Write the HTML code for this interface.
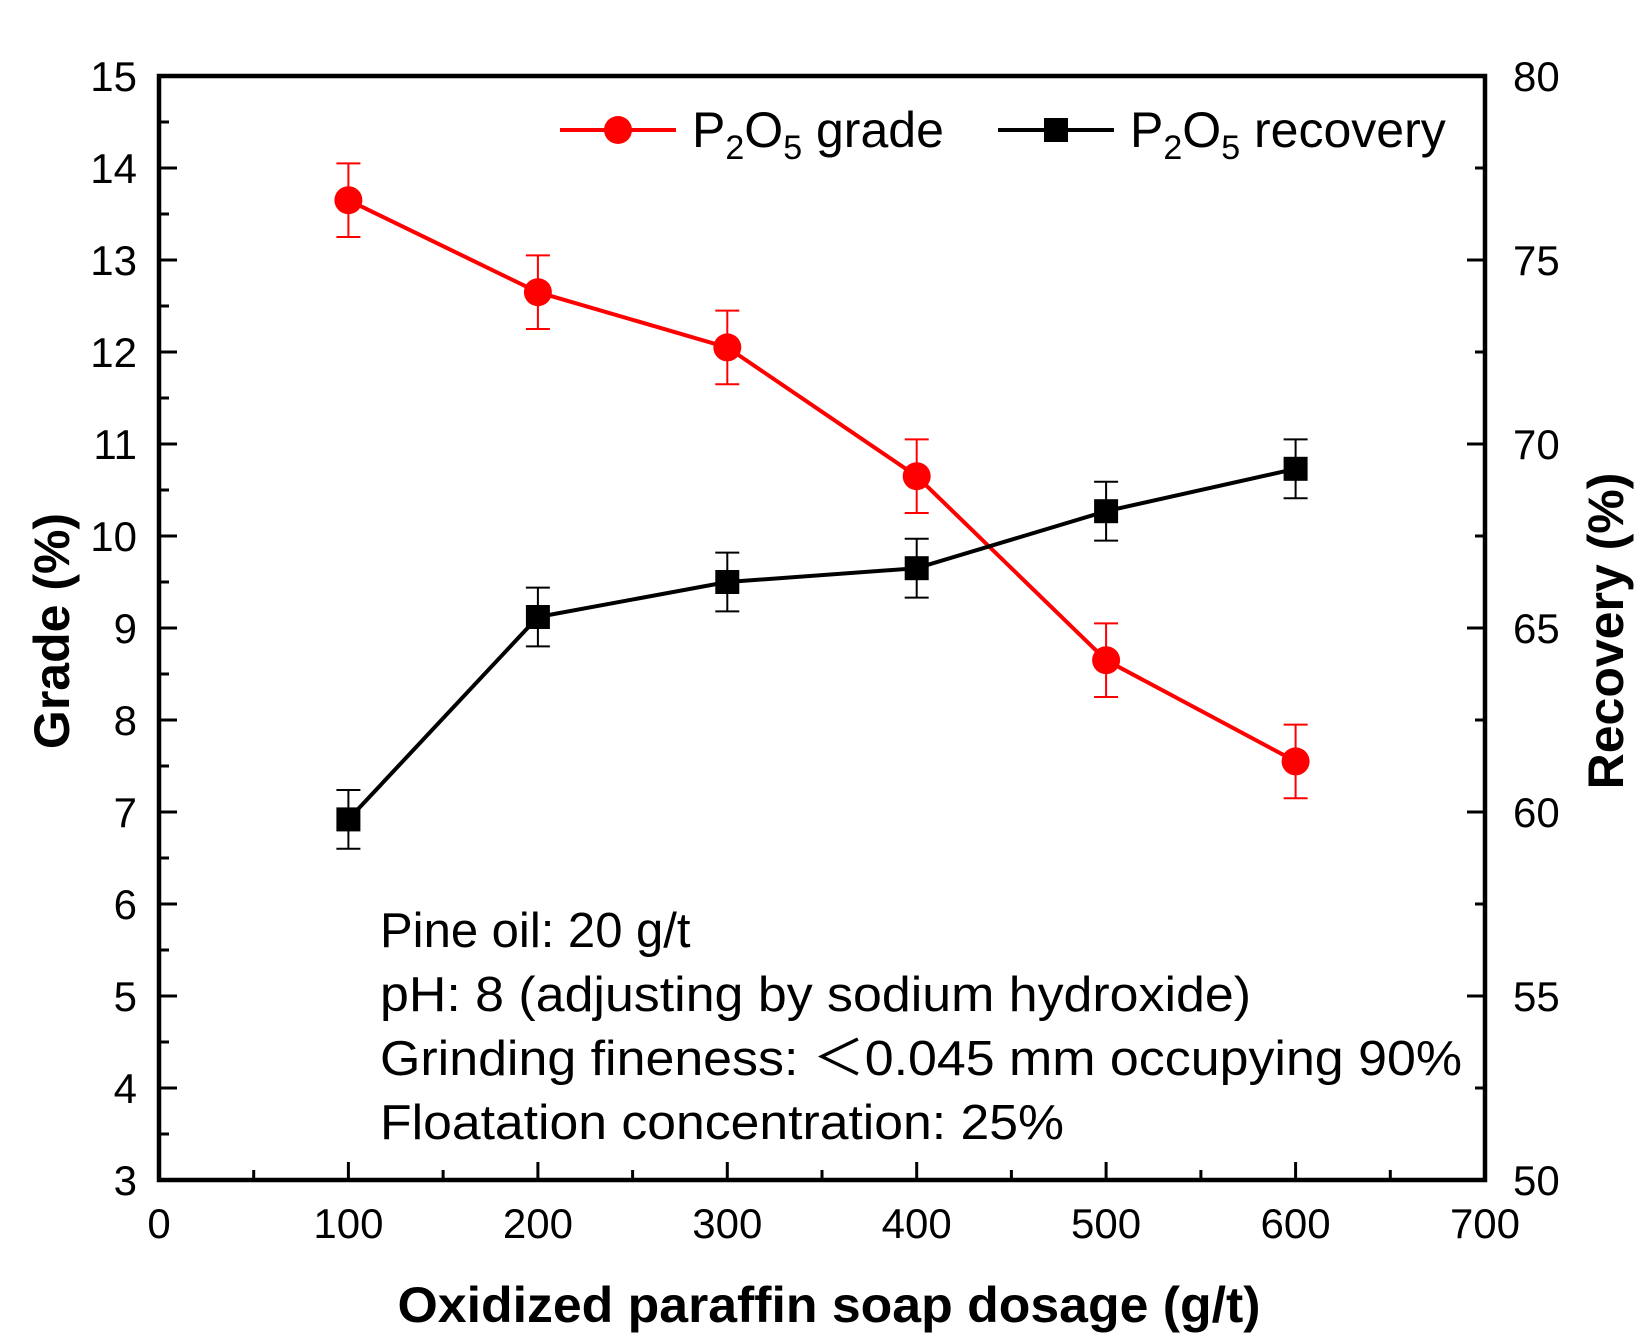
<!DOCTYPE html><html><head><style>body{margin:0;background:#fff}</style></head><body>
<svg width="1647" height="1336" xmlns="http://www.w3.org/2000/svg" font-family="Liberation Sans, Arial, sans-serif">
<g stroke="#000" stroke-width="3">
<line x1="348.4" y1="1180" x2="348.4" y2="1162"/><line x1="537.9" y1="1180" x2="537.9" y2="1162"/><line x1="727.3" y1="1180" x2="727.3" y2="1162"/><line x1="916.7" y1="1180" x2="916.7" y2="1162"/><line x1="1106.1" y1="1180" x2="1106.1" y2="1162"/><line x1="1295.6" y1="1180" x2="1295.6" y2="1162"/>
<line x1="253.7" y1="1180" x2="253.7" y2="1170"/><line x1="443.1" y1="1180" x2="443.1" y2="1170"/><line x1="632.6" y1="1180" x2="632.6" y2="1170"/><line x1="822" y1="1180" x2="822" y2="1170"/><line x1="1011.4" y1="1180" x2="1011.4" y2="1170"/><line x1="1200.9" y1="1180" x2="1200.9" y2="1170"/><line x1="1390.3" y1="1180" x2="1390.3" y2="1170"/>
<path d="M159 168h18M159 260h18M159 352h18M159 444h18M159 536h18M159 628h18M159 720h18M159 812h18M159 904h18M159 996h18M159 1088h18M159 122h10M159 214h10M159 306h10M159 398h10M159 490h10M159 582h10M159 674h10M159 766h10M159 858h10M159 950h10M159 1042h10M159 1134h10"/>
<path d="M1485 168h-10M1485 260h-18M1485 352h-10M1485 444h-18M1485 536h-10M1485 628h-18M1485 720h-10M1485 812h-18M1485 904h-10M1485 996h-18M1485 1088h-10"/>
</g>
<g font-size="42">
<text x="137" y="91" text-anchor="end">15</text><text x="137" y="183" text-anchor="end">14</text><text x="137" y="275" text-anchor="end">13</text><text x="137" y="367" text-anchor="end">12</text><text x="137" y="459" text-anchor="end">11</text><text x="137" y="551" text-anchor="end">10</text><text x="137" y="643" text-anchor="end">9</text><text x="137" y="735" text-anchor="end">8</text><text x="137" y="827" text-anchor="end">7</text><text x="137" y="919" text-anchor="end">6</text><text x="137" y="1011" text-anchor="end">5</text><text x="137" y="1103" text-anchor="end">4</text><text x="137" y="1195" text-anchor="end">3</text>
<text x="1513" y="91">80</text><text x="1513" y="275">75</text><text x="1513" y="459">70</text><text x="1513" y="643">65</text><text x="1513" y="827">60</text><text x="1513" y="1011">55</text><text x="1513" y="1195">50</text>
<g text-anchor="middle"><text x="159" y="1238">0</text><text x="348.4" y="1238">100</text><text x="537.9" y="1238">200</text><text x="727.3" y="1238">300</text><text x="916.7" y="1238">400</text><text x="1106.1" y="1238">500</text><text x="1295.6" y="1238">600</text><text x="1485" y="1238">700</text></g>
</g>
<polyline points="348.4,200.2 537.9,292.2 727.3,347.4 916.7,476.2 1106.1,660.2 1295.6,761.4" fill="none" stroke="#f00" stroke-width="4"/>
<polyline points="348.4,819.4 537.9,617 727.3,582 916.7,568.2 1106.1,511.2 1295.6,468.8" fill="none" stroke="#000" stroke-width="4"/>
<g stroke="#f00" stroke-width="2">
<path d="M348.4 163.4V237M336.4 163.4h24M336.4 237h24"/>
<path d="M537.9 255.4V329M525.9 255.4h24M525.9 329h24"/>
<path d="M727.3 310.6V384.2M715.3 310.6h24M715.3 384.2h24"/>
<path d="M916.7 439.4V513M904.7 439.4h24M904.7 513h24"/>
<path d="M1106.1 623.4V697M1094.1 623.4h24M1094.1 697h24"/>
<path d="M1295.6 724.6V798.2M1283.6 724.6h24M1283.6 798.2h24"/>
</g>
<g fill="#f00"><circle cx="348.4" cy="200.2" r="14"/><circle cx="537.9" cy="292.2" r="14"/><circle cx="727.3" cy="347.4" r="14"/><circle cx="916.7" cy="476.2" r="14"/><circle cx="1106.1" cy="660.2" r="14"/><circle cx="1295.6" cy="761.4" r="14"/></g>
<g stroke="#000" stroke-width="2">
<path d="M348.4 790V848.8M336.4 790h24M336.4 848.8h24"/>
<path d="M537.9 587.6V646.4M525.9 587.6h24M525.9 646.4h24"/>
<path d="M727.3 552.6V611.4M715.3 552.6h24M715.3 611.4h24"/>
<path d="M916.7 538.8V597.6M904.7 538.8h24M904.7 597.6h24"/>
<path d="M1106.1 481.8V540.6M1094.1 481.8h24M1094.1 540.6h24"/>
<path d="M1295.6 439.4V498.2M1283.6 439.4h24M1283.6 498.2h24"/>
</g>
<g fill="#000"><rect x="336.4" y="807.4" width="24" height="24"/><rect x="525.9" y="605" width="24" height="24"/><rect x="715.3" y="570" width="24" height="24"/><rect x="904.7" y="556.2" width="24" height="24"/><rect x="1094.1" y="499.2" width="24" height="24"/><rect x="1283.6" y="456.8" width="24" height="24"/></g>
<rect x="159" y="76" width="1326" height="1104" fill="none" stroke="#000" stroke-width="4.5"/>
<line x1="560" y1="130" x2="676" y2="130" stroke="#f00" stroke-width="4"/><circle cx="618" cy="130" r="14" fill="#f00"/>
<text x="692" y="147" font-size="50">P<tspan font-size="34" dy="12">2</tspan><tspan dy="-12">O</tspan><tspan font-size="34" dy="12">5</tspan><tspan dy="-12"> grade</tspan></text>
<line x1="998" y1="130" x2="1114" y2="130" stroke="#000" stroke-width="4"/><rect x="1044" y="118" width="24" height="24" fill="#000"/>
<text x="1130" y="147" font-size="50">P<tspan font-size="34" dy="12">2</tspan><tspan dy="-12">O</tspan><tspan font-size="34" dy="12">5</tspan><tspan dy="-12"> recovery</tspan></text>
<g font-size="49">
<text x="380" y="947">Pine oil: 20 g/t</text>
<text x="380" y="1011" textLength="871" lengthAdjust="spacingAndGlyphs">pH: 8 (adjusting by sodium hydroxide)</text>
<text x="380" y="1075" textLength="1082" lengthAdjust="spacingAndGlyphs">Grinding fineness: ＜0.045 mm occupying 90%</text>
<text x="380" y="1139" textLength="684" lengthAdjust="spacingAndGlyphs">Floatation concentration: 25%</text>
</g>
<text x="829" y="1322" font-size="50" font-weight="bold" text-anchor="middle" textLength="863" lengthAdjust="spacingAndGlyphs">Oxidized paraffin soap dosage (g/t)</text>
<text transform="translate(69,631) rotate(-90)" font-size="50" font-weight="bold" text-anchor="middle">Grade (%)</text>
<text transform="translate(1623,631) rotate(-90)" font-size="50" font-weight="bold" text-anchor="middle">Recovery (%)</text>
</svg>
</body></html>
